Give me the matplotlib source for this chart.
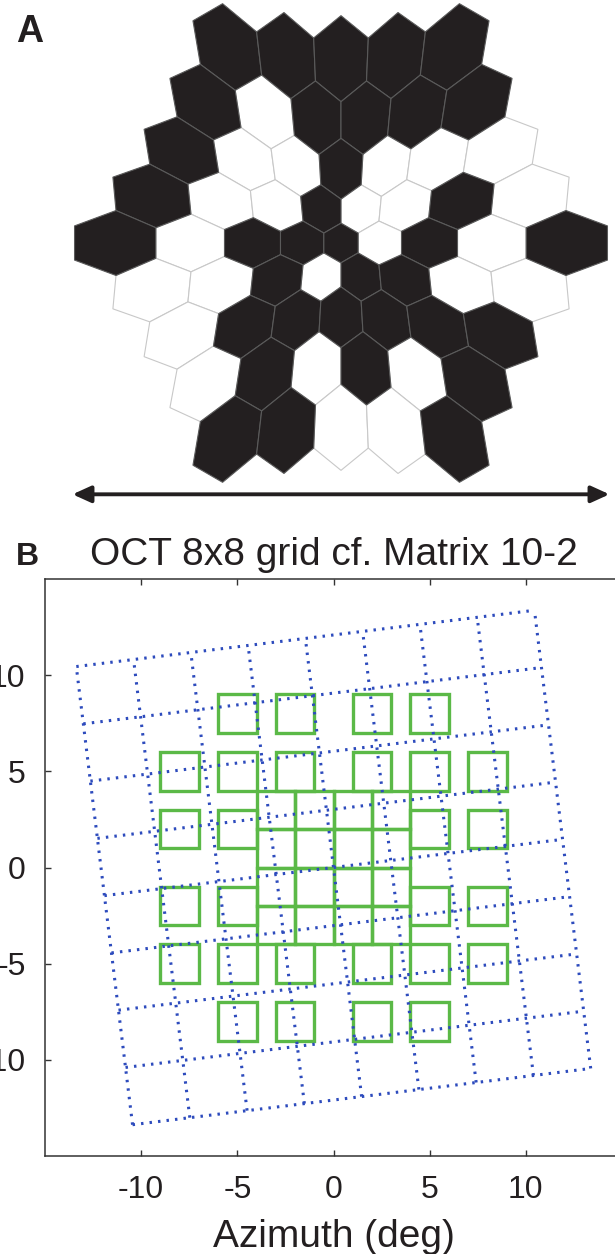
import numpy as np
import matplotlib
matplotlib.use("Agg")
import matplotlib.pyplot as plt
from matplotlib.patches import Polygon, Rectangle

plt.rcParams['font.family'] = ['Liberation Sans', 'DejaVu Sans']
plt.rcParams['axes.unicode_minus'] = False

# --------- Datos ---------

# Panel A: estimulo de 61 hexagonos (1 = negro, 0 = blanco), filas de arriba abajo
hex_rows = [
    [1, 1, 1, 1, 1],
    [1, 0, 1, 1, 1, 1],
    [1, 0, 0, 1, 0, 0, 0],
    [1, 0, 0, 1, 0, 0, 1, 0],
    [1, 0, 1, 1, 1, 0, 1, 0, 1],
    [0, 0, 1, 0, 1, 1, 0, 0],
    [0, 1, 1, 1, 1, 1, 1],
    [0, 1, 0, 1, 0, 1],
    [1, 1, 0, 0, 1],
]
# escalado radial r' = a*r + b*r^2 (px por unidad de red)
warp_a = 30.67
warp_b = 6.33

# Panel B: rejilla OCT 8x8 (3 deg por celda) rotada
oct_lines = [-12, -9, -6, -3, 0, 3, 6, 9, 12]
oct_rotation = 7.0  # grados

# Matrix 10-2: centros de los cuadrados de 2 deg
m_rows_y = [8, 5, 2, -2, -5, -8]
m_rows_x = [
    [-5, -2, 2, 5],
    [-8, -5, -2, 2, 5, 8],
    [-8, -5, 5, 8],
    [-8, -5, 5, 8],
    [-8, -5, -2, 2, 5, 8],
    [-5, -2, 2, 5],
]
m_center = [-3, -1, 1, 3]
m_size = 2

ticks = [-10, -5, 0, 5, 10]

# --------- Figura ---------
W, H = 615, 1254
fig = plt.figure(figsize=(W / 100, H / 100), dpi=100)

# ---- Panel A ----
ax_a = fig.add_axes([0, (H - 520) / H, 1, 520 / H])
ax_a.set_xlim(-341, W - 341)
ax_a.set_ylim(-(520 - 243), 243)
ax_a.axis('off')


def warp(x, y):
    rho = np.hypot(x, y)
    s = warp_a + warp_b * rho
    return x * s, y * s


ang = np.deg2rad([30, 90, 150, 210, 270, 330])
R = 1 / np.sqrt(3)
nrows = len(hex_rows)
all_x, all_y = [], []
for r, row in enumerate(hex_rows):
    j = (nrows - 1) / 2 - r
    cy = j * np.sqrt(3) / 2
    n = len(row)
    for i, val in enumerate(row):
        cx = i - (n - 1) / 2
        vx, vy = warp(cx + R * np.cos(ang), cy + R * np.sin(ang))
        all_x.extend(vx)
        all_y.extend(vy)
        if val:
            p = Polygon(np.column_stack([vx, vy]), closed=True, fc='#231f20',
                        ec='#5a5a5a', lw=0.8, zorder=2)
        else:
            p = Polygon(np.column_stack([vx, vy]), closed=True, fc='white',
                        ec='#c8c8c8', lw=0.8, zorder=1)
        ax_a.add_patch(p)

# flecha que abarca el ancho del mosaico
y_arr = min(all_y) - 12
ax_a.annotate('', xy=(min(all_x) - 2, y_arr), xytext=(max(all_x) + 2, y_arr),
              arrowprops=dict(arrowstyle='<|-|>,head_length=1.1,head_width=0.5',
                              mutation_scale=10, lw=2.8, color='#231f20',
                              shrinkA=0, shrinkB=0))

fig.text(16 / W, 1 - 42 / H, 'A', fontsize=27, fontweight='bold',
         color='#231f20', va='baseline')

# ---- Panel B ----
ax_b = fig.add_axes([45 / W, (H - 1156) / H, 577 / W, 577 / H])
ax_b.set_xlim(-15, 15)
ax_b.set_ylim(-15, 15)

for k in range(len(m_rows_y)):
    for xc in m_rows_x[k]:
        ax_b.add_patch(Rectangle((xc - m_size / 2, m_rows_y[k] - m_size / 2),
                                 m_size, m_size, fill=False, ec='#5bb947',
                                 lw=2.4, zorder=2))
for yc in m_center:
    for xc in m_center:
        ax_b.add_patch(Rectangle((xc - m_size / 2, yc - m_size / 2),
                                 m_size, m_size, fill=False, ec='#5bb947',
                                 lw=2.4, zorder=2))

th = np.deg2rad(oct_rotation)
c, s = np.cos(th), np.sin(th)
lo, hi = oct_lines[0], oct_lines[-1]
for v in oct_lines:
    for (x0, y0, x1, y1) in [(lo, v, hi, v), (v, lo, v, hi)]:
        xs = np.array([x0, x1])
        ys = np.array([y0, y1])
        ax_b.plot(c * xs - s * ys, s * xs + c * ys, color='#2d4bbd',
                  lw=2.2, linestyle=(0, (0.8, 2.0)), zorder=3)

ax_b.set_xticks(ticks)
ax_b.set_yticks(ticks)
ax_b.tick_params(direction='in', top=True, right=True, length=4.5, width=1.0,
                 color='#333333', labelsize=23, pad=14, labelcolor='#231f20')
for sp in ax_b.spines.values():
    sp.set_color('#333333')
    sp.set_linewidth(1.1)

ax_b.set_title('OCT 8x8 grid cf. Matrix 10-2', fontsize=28, pad=10,
               color='#231f20')
ax_b.set_xlabel('Azimuth (deg)', fontsize=28, labelpad=10, color='#231f20')

fig.text(16 / W, 1 - 565 / H, 'B', fontsize=23, fontweight='bold',
         color='#231f20', va='baseline')

fig.savefig('out.png', dpi=100)
